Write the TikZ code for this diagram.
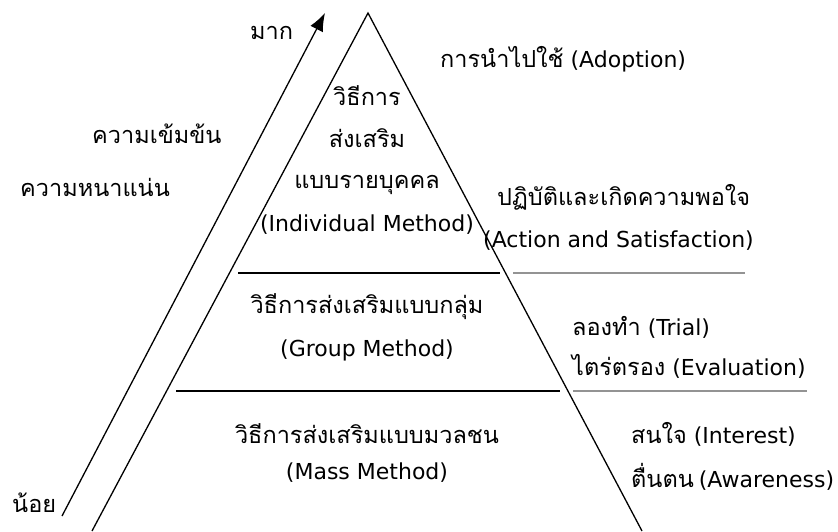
\documentclass[tikz,border=0pt]{standalone}
\usepackage{fontspec}
\setmainfont{DejaVu Sans}
\newfontfamily\thaifx{Loma}[Script=Thai]
\newcommand\thtx[1]{{\thaifx\fontsize{23.5}{28}\selectfont #1}}
\usetikzlibrary{arrows.meta}
\begin{document}
\begin{tikzpicture}[x=1pt,y=-1pt,
  txt/.style={inner sep=0pt,font=\fontsize{22}{27}\selectfont},
  ctr/.style={txt,anchor=base},
  lft/.style={txt,anchor=base west},
  edge/.style={line width=1.3pt,black},
  sep/.style={line width=1.3pt,black},
  gsep/.style={line width=1.4pt,gray!85}]
\useasboundingbox (0,0) rectangle (838,531);
% triangle
\coordinate (apex) at (368,13);
\coordinate (bl) at (92,531);
\coordinate (br) at (642,531);
\draw[edge] (bl) -- (apex) -- (br);
% separators
\coordinate (s1a) at (238,273); \coordinate (s1b) at (500,273);
\coordinate (g1a) at (513,273); \coordinate (g1b) at (745,273);
\coordinate (s2a) at (176,391); \coordinate (s2b) at (560,391);
\coordinate (g2a) at (573,391); \coordinate (g2b) at (807,391);
\draw[sep] (s1a) -- (s1b);
\draw[gsep] (g1a) -- (g1b);
\draw[sep] (s2a) -- (s2b);
\draw[gsep] (g2a) -- (g2b);
% arrow
\coordinate (arA) at (62,516);
\coordinate (arB) at (325,13);
\draw[edge,-{Latex[length=18pt,width=14pt]}] (arA) -- (arB);
% left labels
\node[lft] (mak) at (250,39) {\thtx{มาก}};
\node[lft] (khem) at (92,143) {\thtx{ความเข้มข้น}};
\node[lft] (nan) at (20,196) {\thtx{ความหนาแน่น}};
\node[lft] (noi) at (12,512) {\thtx{น้อย}};
% pyramid texts
\node[ctr] (i1) at (367,105) {\thtx{วิธีการ}};
\node[ctr] (i2) at (367,147) {\thtx{ส่งเสริม}};
\node[ctr] (i3) at (367,188) {\thtx{แบบรายบุคคล}};
\node[ctr] (i4) at (367,231) {(Individual Method)};
\node[ctr] (g1) at (367,313) {\thtx{วิธีการส่งเสริมแบบกลุ่ม}};
\node[ctr] (g2) at (367,356) {(Group Method)};
\node[ctr] (m1) at (367,443) {\thtx{วิธีการส่งเสริมแบบมวลชน}};
\node[ctr] (m2) at (367,479) {(Mass Method)};
% right labels
\node[lft] (adopt) at (440,67) {\thtx{การนำไปใช้} (Adoption)};
\node[lft] (act1) at (497,205) {\thtx{ปฏิบัติและเกิดความพอใจ}};
\node[lft] (act2) at (483,247) {(Action and Satisfaction)};
\node[lft] (trial) at (572,335) {\thtx{ลองทำ} (Trial)};
\node[lft] (eval) at (572,375) {\thtx{ไตร่ตรอง} (Evaluation)};
\node[lft] (inter) at (631,443) {\thtx{สนใจ} (Interest)};
\node[lft] (aware) at (631,487) {\thtx{ตื่นตน}\hspace{-2pt} (Awareness)};
\end{tikzpicture}
\end{document}
